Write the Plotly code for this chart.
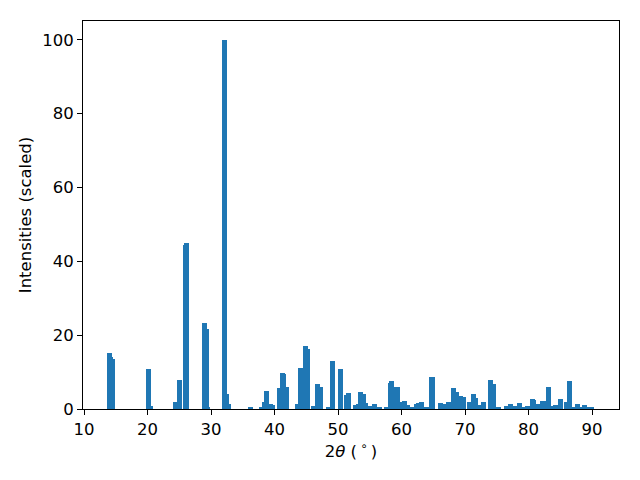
import plotly.graph_objects as go

# peak positions (2theta, degrees) and scaled intensities
two_theta = [14.02, 14.22, 14.49, 20.16, 20.47, 24.41, 25.04, 25.98, 26.14,
             28.98, 29.29, 29.45, 32.13, 32.44, 32.76, 36.22, 37.95, 38.43,
             38.74, 39.37, 39.69, 40.79, 41.26, 41.42, 41.89, 43.62, 44.09,
             44.88, 45.20, 46.14, 46.77, 47.24, 48.50, 49.13, 50.39, 51.34,
             51.65, 52.76, 53.23, 53.54, 54.02, 54.33, 54.96, 55.75, 56.54,
             57.64, 58.27, 58.43, 59.29, 60.16, 60.47, 60.94, 61.57, 62.36,
             62.68, 63.15, 63.94, 64.80, 66.14, 66.77, 67.40, 68.19, 68.66,
             69.29, 69.76, 70.71, 71.34, 71.65, 72.13, 72.91, 74.02, 74.49,
             75.28, 76.54, 77.17, 77.80, 78.58, 79.06, 79.84, 80.63, 80.79,
             81.42, 82.28, 83.15, 83.62, 84.25, 85.04, 85.98, 86.46, 86.93,
             87.72, 88.03, 88.82, 89.13, 89.92]
intensity = [15.2, 14.1, 13.6, 10.8, 0.8, 1.9, 7.9, 44.4, 45.0,
             23.3, 21.7, 0.5, 100.0, 4.0, 1.4, 0.3, 0.3, 1.9,
             4.9, 1.4, 1.1, 5.7, 9.8, 9.5, 5.9, 1.4, 11.1,
             17.1, 16.3, 0.8, 6.8, 6.0, 0.3, 13.0, 10.8, 3.8,
             4.3, 1.1, 1.4, 4.6, 4.1, 1.6, 0.8, 1.4, 0.3,
             0.3, 7.0, 7.6, 6.0, 1.9, 2.2, 1.1, 0.5, 1.4,
             1.6, 1.9, 0.5, 8.7, 1.6, 1.4, 1.9, 5.7, 4.6,
             3.5, 3.3, 1.9, 4.1, 3.0, 1.1, 1.9, 7.9, 6.8,
             0.3, 0.8, 1.4, 0.8, 1.6, 0.5, 0.8, 2.7, 2.5,
             1.4, 2.2, 6.0, 0.8, 1.1, 2.7, 1.9, 7.6, 0.3,
             1.4, 0.5, 1.1, 0.3, 0.5]

x_ticks = [10, 20, 30, 40, 50, 60, 70, 80, 90]
y_ticks = [0, 20, 40, 60, 80, 100]

fig = go.Figure()
fig.add_trace(go.Bar(x=two_theta, y=intensity, width=0.8,
                     marker=dict(color="#1f77b4", line=dict(width=0))))

font = dict(family="DejaVu Sans", size=16.5, color="black")
axis_common = dict(showline=True, linecolor="black", linewidth=1, mirror=True,
                   ticks="outside", ticklen=5, tickwidth=1, tickcolor="black",
                   showgrid=False, zeroline=False, tickfont=font)

fig.update_layout(
    width=632, height=472,
    margin=dict(l=75, r=21, t=13, b=71),
    paper_bgcolor="white", plot_bgcolor="white",
    barmode="overlay", bargap=0, showlegend=False,
    font=font,
    xaxis=dict(range=[9.84, 94.25], tickvals=x_ticks,
               title=dict(text="2<i>θ</i> (\u2009<sup>∘</sup>\u2009)", font=font, standoff=6),
               **axis_common),
    yaxis=dict(range=[0, 105.1], tickvals=y_ticks,
               title=dict(text="Intensities (scaled)", font=font, standoff=6),
               **axis_common),
)

fig.write_html("out.html")
